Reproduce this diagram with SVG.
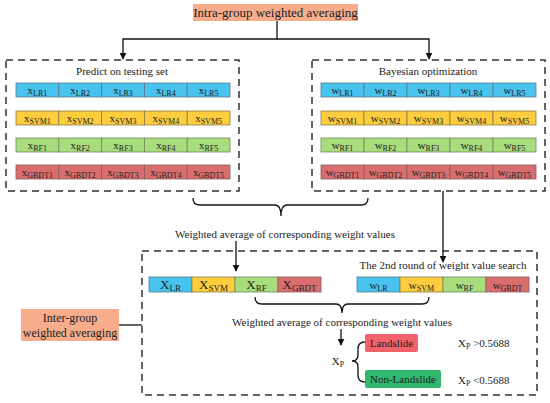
<svg xmlns="http://www.w3.org/2000/svg" width="550" height="403" viewBox="0 0 550 403">
<defs>
<marker id="ah" viewBox="0 0 10 10" refX="9" refY="5" markerWidth="7" markerHeight="7" orient="auto" markerUnits="userSpaceOnUse"><path d="M0 0 L10 5 L0 10 z" fill="#111"/></marker>
<style>
text{font-family:"Times New Roman",Times,Tinos,"Noto Serif","Liberation Serif",serif;fill:#222}
.t{font-size:11px}
.c{font-size:11px;text-anchor:middle}
.cb{font-size:13px;text-anchor:middle}
.s{font-size:8px}
.sb{font-size:9px}
.dash{fill:none;stroke:#333;stroke-width:1.5;stroke-dasharray:7 5}
.ln{fill:none;stroke:#111;stroke-width:1.3}
.blue{fill:#48C3EE;stroke:#5a7a8a;stroke-width:0.8}
.yel{fill:#FDCD3E;stroke:#8a7a4a;stroke-width:0.8}
.grn{fill:#A8DC7C;stroke:#6a8a5a;stroke-width:0.8}
.red{fill:#DA6E6E;stroke:#8a5a5a;stroke-width:0.8}
.org{fill:#F7AC8C}
</style>
</defs>

<g id="connectors">
<path class="ln" d="M277 21 V39 H123 V59" marker-end="url(#ah)"/>
<path class="ln" d="M277 39 H429 V59" marker-end="url(#ah)"/>
<path class="ln" d="M193 198 Q193 205 200 205 H275 Q281 205 281 216 Q281 205 287 205 H361 Q368 205 368 198"/>
<path class="ln" d="M236 241 V271" marker-end="url(#ah)"/>
<path class="ln" d="M443 191 V262" marker-end="url(#ah)"/>
<path class="ln" d="M119 325 H142"/>
<path class="ln" d="M255 297 Q255 304 262 304 H336 Q342 304 342 313 Q342 304 348 304 H422 Q429 304 429 297"/>
<path class="ln" d="M341 329 V345" marker-end="url(#ah)"/>
<path class="ln" d="M365 342 Q358 342 358 349 V355 Q358 361 352 361 Q358 361 358 367 V375 Q358 382 365 382"/>
</g>

<g id="intra">
<rect class="org" x="193" y="4" width="165" height="17"/>
<text x="275.5" y="17" font-size="13" text-anchor="middle">Intra-group weighted averaging</text>
</g>

<g id="predict">
<rect class="dash" x="6" y="60" width="233" height="131"/>
<text class="t" x="122" y="75" text-anchor="middle">Predict on testing set</text>
<g>
<rect class="blue" x="16" y="83" width="42.8" height="14"/><rect class="blue" x="58.8" y="83" width="42.8" height="14"/><rect class="blue" x="101.6" y="83" width="42.8" height="14"/><rect class="blue" x="144.4" y="83" width="42.8" height="14"/><rect class="blue" x="187.2" y="83" width="42.8" height="14"/>
<text class="c" x="37.4" y="94">x<tspan class="s" dy="2">LR1</tspan></text>
<text class="c" x="80.2" y="94">x<tspan class="s" dy="2">LR2</tspan></text>
<text class="c" x="123" y="94">x<tspan class="s" dy="2">LR3</tspan></text>
<text class="c" x="165.8" y="94">x<tspan class="s" dy="2">LR4</tspan></text>
<text class="c" x="208.6" y="94">x<tspan class="s" dy="2">LR5</tspan></text>
</g>
<g>
<rect class="yel" x="16" y="111" width="42.8" height="14"/><rect class="yel" x="58.8" y="111" width="42.8" height="14"/><rect class="yel" x="101.6" y="111" width="42.8" height="14"/><rect class="yel" x="144.4" y="111" width="42.8" height="14"/><rect class="yel" x="187.2" y="111" width="42.8" height="14"/>
<text class="c" x="37.4" y="122">x<tspan class="s" dy="2">SVM1</tspan></text>
<text class="c" x="80.2" y="122">x<tspan class="s" dy="2">SVM2</tspan></text>
<text class="c" x="123" y="122">x<tspan class="s" dy="2">SVM3</tspan></text>
<text class="c" x="165.8" y="122">x<tspan class="s" dy="2">SVM4</tspan></text>
<text class="c" x="208.6" y="122">x<tspan class="s" dy="2">SVM5</tspan></text>
</g>
<g>
<rect class="grn" x="16" y="138" width="42.8" height="14"/><rect class="grn" x="58.8" y="138" width="42.8" height="14"/><rect class="grn" x="101.6" y="138" width="42.8" height="14"/><rect class="grn" x="144.4" y="138" width="42.8" height="14"/><rect class="grn" x="187.2" y="138" width="42.8" height="14"/>
<text class="c" x="37.4" y="149">x<tspan class="s" dy="2">RF1</tspan></text>
<text class="c" x="80.2" y="149">x<tspan class="s" dy="2">RF2</tspan></text>
<text class="c" x="123" y="149">x<tspan class="s" dy="2">RF3</tspan></text>
<text class="c" x="165.8" y="149">x<tspan class="s" dy="2">RF4</tspan></text>
<text class="c" x="208.6" y="149">x<tspan class="s" dy="2">RF5</tspan></text>
</g>
<g>
<rect class="red" x="16" y="165" width="42.8" height="14"/><rect class="red" x="58.8" y="165" width="42.8" height="14"/><rect class="red" x="101.6" y="165" width="42.8" height="14"/><rect class="red" x="144.4" y="165" width="42.8" height="14"/><rect class="red" x="187.2" y="165" width="42.8" height="14"/>
<text class="c" x="37.4" y="176">x<tspan class="s" dy="2">GBDT1</tspan></text>
<text class="c" x="80.2" y="176">x<tspan class="s" dy="2">GBDT2</tspan></text>
<text class="c" x="123" y="176">x<tspan class="s" dy="2">GBDT3</tspan></text>
<text class="c" x="165.8" y="176">x<tspan class="s" dy="2">GBDT4</tspan></text>
<text class="c" x="208.6" y="176">x<tspan class="s" dy="2">GBDT5</tspan></text>
</g>
</g>

<g id="bayes">
<rect class="dash" x="312" y="60" width="233" height="131"/>
<text class="t" x="428" y="75" text-anchor="middle">Bayesian optimization</text>
<g>
<rect class="blue" x="321" y="83" width="43" height="14"/><rect class="blue" x="364" y="83" width="43" height="14"/><rect class="blue" x="407" y="83" width="43" height="14"/><rect class="blue" x="450" y="83" width="43" height="14"/><rect class="blue" x="493" y="83" width="43" height="14"/>
<text class="c" x="342.5" y="94">w<tspan class="s" dy="2">LR1</tspan></text>
<text class="c" x="385.5" y="94">w<tspan class="s" dy="2">LR2</tspan></text>
<text class="c" x="428.5" y="94">w<tspan class="s" dy="2">LR3</tspan></text>
<text class="c" x="471.5" y="94">w<tspan class="s" dy="2">LR4</tspan></text>
<text class="c" x="514.5" y="94">w<tspan class="s" dy="2">LR5</tspan></text>
</g>
<g>
<rect class="yel" x="321" y="111" width="43" height="14"/><rect class="yel" x="364" y="111" width="43" height="14"/><rect class="yel" x="407" y="111" width="43" height="14"/><rect class="yel" x="450" y="111" width="43" height="14"/><rect class="yel" x="493" y="111" width="43" height="14"/>
<text class="c" x="342.5" y="122">w<tspan class="s" dy="2">SVM1</tspan></text>
<text class="c" x="385.5" y="122">w<tspan class="s" dy="2">SVM2</tspan></text>
<text class="c" x="428.5" y="122">w<tspan class="s" dy="2">SVM3</tspan></text>
<text class="c" x="471.5" y="122">w<tspan class="s" dy="2">SVM4</tspan></text>
<text class="c" x="514.5" y="122">w<tspan class="s" dy="2">SVM5</tspan></text>
</g>
<g>
<rect class="grn" x="321" y="138" width="43" height="14"/><rect class="grn" x="364" y="138" width="43" height="14"/><rect class="grn" x="407" y="138" width="43" height="14"/><rect class="grn" x="450" y="138" width="43" height="14"/><rect class="grn" x="493" y="138" width="43" height="14"/>
<text class="c" x="342.5" y="149">w<tspan class="s" dy="2">RF1</tspan></text>
<text class="c" x="385.5" y="149">w<tspan class="s" dy="2">RF2</tspan></text>
<text class="c" x="428.5" y="149">w<tspan class="s" dy="2">RF3</tspan></text>
<text class="c" x="471.5" y="149">w<tspan class="s" dy="2">RF4</tspan></text>
<text class="c" x="514.5" y="149">w<tspan class="s" dy="2">RF5</tspan></text>
</g>
<g>
<rect class="red" x="321" y="165" width="43" height="14"/><rect class="red" x="364" y="165" width="43" height="14"/><rect class="red" x="407" y="165" width="43" height="14"/><rect class="red" x="450" y="165" width="43" height="14"/><rect class="red" x="493" y="165" width="43" height="14"/>
<text class="c" x="342.5" y="176">w<tspan class="s" dy="2">GBDT1</tspan></text>
<text class="c" x="385.5" y="176">w<tspan class="s" dy="2">GBDT2</tspan></text>
<text class="c" x="428.5" y="176">w<tspan class="s" dy="2">GBDT3</tspan></text>
<text class="c" x="471.5" y="176">w<tspan class="s" dy="2">GBDT4</tspan></text>
<text class="c" x="514.5" y="176">w<tspan class="s" dy="2">GBDT5</tspan></text>
</g>
</g>

<g id="label-avg1">
<text class="t" x="285" y="238" text-anchor="middle">Weighted average of corresponding weight values</text>
</g>

<g id="inter-box">
<rect class="dash" x="142" y="251" width="395" height="144"/>
</g>

<g id="inter">
<rect class="org" x="21" y="309" width="98" height="32"/>
<text x="70" y="322" font-size="12" text-anchor="middle">Inter-group</text>
<text x="70" y="337" font-size="12" text-anchor="middle">weighted averaging</text>
</g>

<g id="xrow">
<rect class="blue" x="149" y="277" width="43" height="15"/><rect class="yel" x="192" y="277" width="43" height="15"/><rect class="grn" x="235" y="277" width="43" height="15"/><rect class="red" x="278" y="277" width="43" height="15"/>
<text class="cb" x="170.5" y="289">X<tspan class="sb" dy="2">LR</tspan></text>
<text class="cb" x="213.5" y="289">X<tspan class="sb" dy="2">SVM</tspan></text>
<text class="cb" x="256.5" y="289">X<tspan class="sb" dy="2">RF</tspan></text>
<text class="cb" x="299.5" y="289">X<tspan class="sb" dy="2">GBDT</tspan></text>
</g>

<g id="search-label">
<text class="t" x="443" y="269" text-anchor="middle">The 2nd round of weight value search</text>
</g>

<g id="wrow">
<rect class="blue" x="357" y="277" width="43" height="15"/><rect class="yel" x="400" y="277" width="43" height="15"/><rect class="grn" x="443" y="277" width="43" height="15"/><rect class="red" x="486" y="277" width="43" height="15"/>
<text class="c" x="378.5" y="289">w<tspan class="s" dy="2">LR</tspan></text>
<text class="c" x="421.5" y="289">w<tspan class="s" dy="2">SVM</tspan></text>
<text class="c" x="464.5" y="289">w<tspan class="s" dy="2">RF</tspan></text>
<text class="c" x="507.5" y="289">w<tspan class="s" dy="2">GBDT</tspan></text>
</g>

<g id="label-avg2">
<text class="t" x="342" y="326" text-anchor="middle">Weighted average of corresponding weight values</text>
</g>

<g id="xp">
<text class="t" x="338" y="365" text-anchor="middle">X<tspan class="s" dy="2">P</tspan></text>
</g>

<g id="landslide">
<rect x="365" y="334" width="53" height="18" rx="2" fill="#F2626A"/>
<text class="t" x="391.5" y="347" text-anchor="middle">Landslide</text>
</g>

<g id="nonlandslide">
<rect x="365" y="370" width="76" height="18" rx="2" fill="#2FB86E"/>
<text class="t" x="403" y="383" text-anchor="middle">Non-Landslide</text>
</g>

<g id="cond1">
<text class="t" x="458" y="347">X<tspan class="s" dy="2">P</tspan><tspan dy="-2"> &gt;0.5688</tspan></text>
</g>
<g id="cond2">
<text class="t" x="458" y="384">X<tspan class="s" dy="2">P</tspan><tspan dy="-2"> &lt;0.5688</tspan></text>
</g>
</svg>
